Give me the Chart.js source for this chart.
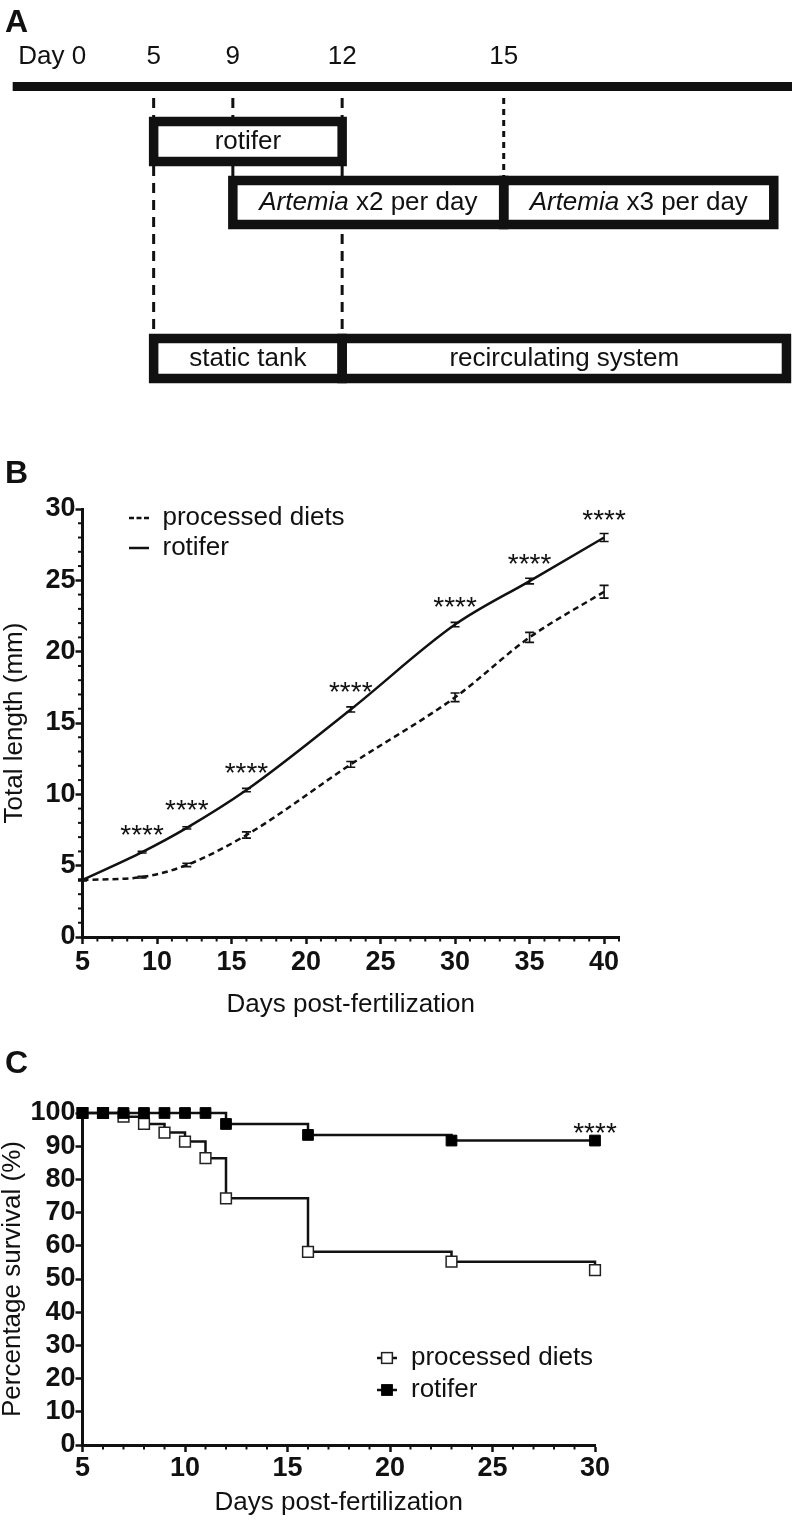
<!DOCTYPE html>
<html>
<head>
<meta charset="utf-8">
<script src="https://cdn.jsdelivr.net/npm/chart.js@4.4.1/dist/chart.umd.min.js"></script>
<style>
  html, body { margin: 0; padding: 0; background: #ffffff; }
  body { width: 792px; height: 1520px; position: relative; overflow: hidden; }
  .panel { position: absolute; left: 0; width: 792px; }
  canvas { display: block; }
</style>
</head>
<body>
<div class="panel" style="top:0px;height:400px"><canvas id="chartA" width="792" height="400"></canvas></div>
<div class="panel" style="top:440px;height:590px"><canvas id="chartB" width="792" height="590"></canvas></div>
<div class="panel" style="top:1030px;height:490px"><canvas id="chartC" width="792" height="490"></canvas></div>
<script>
// ================= DATA =================
// Panel A : rearing schedule (days post-fertilization)
const timelineDays   = [0, 5, 9, 12, 15];
const timelineLabels = ['Day 0', '5', '9', '12', '15'];
const feedingPhases = [
  { from: 5,  to: 12,    row: 1, italic: '',        text: 'rotifer' },
  { from: 9,  to: 15,    row: 2, italic: 'Artemia', text: ' x2 per day' },
  { from: 15, to: 'end', row: 2, italic: 'Artemia', text: ' x3 per day' }
];
const housingPhases = [
  { from: 5,  to: 12,    row: 3, italic: '', text: 'static tank' },
  { from: 12, to: 'end', row: 3, italic: '', text: 'recirculating system' }
];
const guideLines = [ { day: 5, toRow: 3 }, { day: 9, toRow: 2 }, { day: 12, toRow: 3 }, { day: 15, toRow: 2 } ];

// Panel B : total length (mm)
const growthDays      = [5, 9, 12, 16, 23, 30, 35, 40];
const rotiferLength   = [4.0, 5.95, 7.65, 10.3, 15.95, 21.9, 24.95, 28.0];
const rotiferSEM      = [0.05, 0.06, 0.08, 0.12, 0.18, 0.15, 0.2, 0.28];
const processedLength = [4.0, 4.2, 5.05, 7.15, 12.1, 16.8, 21.0, 24.2];
const processedSEM    = [0.05, 0.06, 0.12, 0.22, 0.2, 0.3, 0.35, 0.45];
const growthStars     = ['', '****', '****', '****', '****', '****', '****', '****'];
const growthXTicks    = [5, 10, 15, 20, 25, 30, 35, 40];
const growthYTicks    = [0, 5, 10, 15, 20, 25, 30];

// Panel C : Kaplan-Meier survival (%)
const survivalDays      = [5, 6, 7, 8, 9, 10, 11, 12, 16, 23, 30];
const rotiferSurvival   = [100, 100, 100, 100, 100, 100, 100, 96.7, 93.4, 91.7, 91.7];
const processedSurvival = [100, 100, 98.9, 96.7, 94.1, 91.4, 86.4, 74.3, 58.2, 55.2, 52.7];
const survivalStars     = ['', '', '', '', '', '', '', '', '', '', '****'];
const survivalXTicks    = [5, 10, 15, 20, 25, 30];
const survivalYTicks    = [0, 10, 20, 30, 40, 50, 60, 70, 80, 90, 100];

// ================= STYLE / LAYOUT =================
const FONT = '"Liberation Sans", Arial, Helvetica, sans-serif';
const INK = '#111111';
Chart.defaults.font.family = FONT;
Chart.defaults.color = INK;

function fontAvailable(name) {
  const c = document.createElement('canvas').getContext('2d');
  c.font = '40px monospace';
  const w0 = c.measureText('0123456789abcxyz').width;
  c.font = '40px "' + name + '", monospace';
  const w1 = c.measureText('0123456789abcxyz').width;
  return Math.abs(w0 - w1) > 0.5;
}
const HAS_NARROW = fontAvailable('Liberation Sans Narrow');
const TICK_FONT = HAS_NARROW
  ? { family: '"Liberation Sans Narrow", ' + FONT, size: 29, weight: 'bold' }
  : { family: FONT, size: 27, weight: 'bold' };

// schematic (not-to-scale) placement for panel A, in axis units (x: 0-100, y: 0-40)
const schematic = {
  dayPos: { 0: 6.6, 5: 19.4, 9: 29.4, 12: 43.2, 15: 63.6 },
  endPos: { 2: 97.7, 3: 99.3 },
  timelineFrom: 1.6, timelineTo: 100, timelineY: 8.65, timelineHalf: 0.45,
  labelY: 5.7, guideStart: 9.8,
  rows: { 1: { c: 14.15, h: 2.0 }, 2: { c: 20.25, h: 2.2 }, 3: { c: 35.85, h: 2.0 } }
};

// ================= PLUGINS =================
const panelLetter = {
  id: 'panelLetter',
  afterDraw(chart, args, o) {
    const ctx = chart.ctx;
    ctx.save();
    ctx.fillStyle = INK;
    ctx.font = 'bold 32px ' + FONT;
    ctx.textBaseline = 'alphabetic';
    ctx.textAlign = 'left';
    ctx.fillText(o.text, o.x, o.y);
    ctx.restore();
  }
};

function drawRichText(ctx, italic, text, cx, cy, size) {
  ctx.font = 'italic ' + size + 'px ' + FONT;
  const w1 = italic ? ctx.measureText(italic).width : 0;
  ctx.font = size + 'px ' + FONT;
  const w2 = ctx.measureText(text).width;
  let x = cx - (w1 + w2) / 2;
  ctx.textAlign = 'left';
  ctx.textBaseline = 'middle';
  if (italic) {
    ctx.font = 'italic ' + size + 'px ' + FONT;
    ctx.fillText(italic, x, cy);
    x += w1;
  }
  ctx.font = size + 'px ' + FONT;
  ctx.fillText(text, x, cy);
}

const scheduleDiagram = {
  id: 'scheduleDiagram',
  afterDraw(chart) {
    const ctx = chart.ctx, xs = chart.scales.x, ys = chart.scales.y;
    const X = (d, row) => xs.getPixelForValue(d === 'end' ? schematic.endPos[row] : schematic.dayPos[d]);
    const Y = v => ys.getPixelForValue(v);
    ctx.save();
    ctx.fillStyle = INK;
    ctx.strokeStyle = INK;
    // milestone labels
    ctx.font = '26px ' + FONT;
    ctx.textAlign = 'center';
    ctx.textBaseline = 'middle';
    timelineDays.forEach((d, i) => ctx.fillText(timelineLabels[i], X(d), Y(schematic.labelY)));
    // timeline bar
    const t0 = xs.getPixelForValue(schematic.timelineFrom), t1 = xs.getPixelForValue(schematic.timelineTo);
    ctx.fillRect(t0, Y(schematic.timelineY - schematic.timelineHalf), t1 - t0,
                 Y(schematic.timelineY + schematic.timelineHalf) - Y(schematic.timelineY - schematic.timelineHalf));
    // dashed guide lines
    ctx.lineWidth = 3;
    guideLines.forEach(g => {
      const r = schematic.rows[g.toRow];
      ctx.setLineDash(g.day === 15 ? [6, 5] : [10, 7]);
      ctx.beginPath();
      ctx.moveTo(X(g.day), Y(schematic.guideStart));
      ctx.lineTo(X(g.day), Y(r.c - r.h));
      ctx.stroke();
    });
    ctx.setLineDash([]);
    // phase boxes
    const drawPhase = p => {
      const r = schematic.rows[p.row];
      const x0 = X(p.from, p.row), x1 = X(p.to, p.row);
      const y0 = Y(r.c - r.h), y1 = Y(r.c + r.h);
      ctx.fillStyle = '#ffffff';
      ctx.fillRect(x0, y0, x1 - x0, y1 - y0);
    };
    const strokePhase = p => {
      const r = schematic.rows[p.row];
      const x0 = X(p.from, p.row), x1 = X(p.to, p.row);
      const y0 = Y(r.c - r.h), y1 = Y(r.c + r.h);
      ctx.lineWidth = 9.5;
      ctx.strokeStyle = INK;
      ctx.strokeRect(x0, y0, x1 - x0, y1 - y0);
      ctx.fillStyle = INK;
      drawRichText(ctx, p.italic, p.text, (x0 + x1) / 2, Y(r.c), 26);
    };
    const all = feedingPhases.concat(housingPhases);
    all.forEach(drawPhase);
    all.forEach(strokePhase);
    ctx.restore();
  }
};

// minor tick marks
const minorTicks = {
  id: 'minorTicks',
  afterDraw(chart, args, o) {
    const ctx = chart.ctx;
    ctx.save();
    ctx.strokeStyle = INK;
    ctx.lineWidth = 2;
    (o.axes || []).forEach(a => {
      const s = chart.scales[a.id];
      for (let v = s.min; v <= s.max + 1e-9; v += a.step) {
        const q = v / a.major;
        if (Math.abs(q - Math.round(q)) < 1e-9) continue;
        const p = s.getPixelForValue(v);
        ctx.beginPath();
        if (s.isHorizontal()) { ctx.moveTo(p, s.top); ctx.lineTo(p, s.top + a.len); }
        else { ctx.moveTo(s.right, p); ctx.lineTo(s.right - a.len, p); }
        ctx.stroke();
      }
    });
    ctx.restore();
  }
};

// error bars (SEM) and significance stars
const errorBarsAndStars = {
  id: 'errorBarsAndStars',
  afterDatasetsDraw(chart, args, o) {
    const ctx = chart.ctx, xs = chart.scales.x, ys = chart.scales.y;
    ctx.save();
    ctx.strokeStyle = INK;
    ctx.fillStyle = INK;
    ctx.lineWidth = 1.6;
    chart.data.datasets.forEach(ds => {
      ds.data.forEach((pt, i) => {
        const x = xs.getPixelForValue(pt.x);
        if (ds.sem && ds.sem[i]) {
          const ya = ys.getPixelForValue(pt.y - ds.sem[i]);
          const yb = ys.getPixelForValue(pt.y + ds.sem[i]);
          ctx.beginPath();
          ctx.moveTo(x, ya); ctx.lineTo(x, yb);
          ctx.moveTo(x - 4.5, ya); ctx.lineTo(x + 4.5, ya);
          ctx.moveTo(x - 4.5, yb); ctx.lineTo(x + 4.5, yb);
          ctx.stroke();
        }
        if (ds.stars && ds.stars[i]) {
          ctx.font = '28px ' + FONT;
          ctx.textAlign = 'center';
          ctx.textBaseline = 'alphabetic';
          ctx.fillText(ds.stars[i], x, ys.getPixelForValue(pt.y) + o.starShift);
        }
      });
    });
    ctx.restore();
  }
};

// custom legends
const customLegend = {
  id: 'customLegend',
  afterDraw(chart, args, o) {
    const ctx = chart.ctx, ca = chart.chartArea;
    ctx.save();
    o.items.forEach(it => {
      const ds = chart.data.datasets[it.dataset];
      const y = (o.fromBottom ? ca.bottom : ca.top) + it.dy;
      const x0 = ca.left + o.sampleFrom, x1 = ca.left + o.sampleTo;
      ctx.strokeStyle = INK;
      ctx.lineWidth = 2.5;
      ctx.setLineDash(it.dash || []);
      ctx.beginPath(); ctx.moveTo(x0, y); ctx.lineTo(x1, y); ctx.stroke();
      ctx.setLineDash([]);
      if (o.marker) {
        const s = ds.pointRadius * Math.SQRT1_2;
        const cx = (x0 + x1) / 2;
        ctx.fillStyle = ds.pointBackgroundColor;
        ctx.fillRect(cx - s, y - s, 2 * s, 2 * s);
        ctx.lineWidth = ds.pointBorderWidth;
        ctx.strokeStyle = ds.pointBorderColor;
        ctx.strokeRect(cx - s, y - s, 2 * s, 2 * s);
      }
      ctx.fillStyle = INK;
      ctx.font = '26px ' + FONT;
      ctx.textAlign = 'left';
      ctx.textBaseline = 'middle';
      ctx.fillText(ds.label, ca.left + o.textAt, y);
    });
    ctx.restore();
  }
};

const baseOpts = {
  responsive: false,
  animation: false,
  devicePixelRatio: 1,
  events: []
};

function axisCommon(ticksArr, titleText, titleFont, titlePad, fitFn) {
  return {
    type: 'linear',
    afterBuildTicks: s => { s.ticks = ticksArr.map(v => ({ value: v })); },
    ticks: { color: INK, font: TICK_FONT, padding: 0, maxRotation: 0, autoSkip: false },
    grid: { drawOnChartArea: false, drawTicks: true, tickLength: 7, tickWidth: 2.5, tickColor: INK },
    border: { display: true, color: INK, width: 3 },
    title: { display: true, text: titleText, color: INK, font: titleFont, padding: titlePad },
    afterFit: fitFn
  };
}

// ================= PANEL A =================
new Chart(document.getElementById('chartA'), {
  type: 'scatter',
  data: { datasets: [] },
  options: Object.assign({}, baseOpts, {
    layout: { padding: 0 },
    plugins: { legend: { display: false }, tooltip: { enabled: false },
               panelLetter: { text: 'A', x: 5, y: 32 } },
    scales: {
      x: { type: 'linear', min: 0, max: 100, display: false },
      y: { type: 'linear', min: 0, max: 40, reverse: true, display: false }
    }
  }),
  plugins: [scheduleDiagram, panelLetter]
});

// ================= PANEL B =================
const xB = axisCommon(growthXTicks, 'Days post-fertilization', { size: 26, family: FONT, lineHeight: 1.2 },
                      { top: 0, bottom: 9.4 }, s => { s.height = 93; });
xB.min = 5; xB.max = 41; xB.ticks.padding = 2;
const yB = axisCommon(growthYTicks, 'Total length (mm)', { size: 26, family: FONT, lineHeight: 1.0 },
                      { top: 2, bottom: 0 }, s => { s.width = 82.5; });
yB.min = 0; yB.max = 30;

new Chart(document.getElementById('chartB'), {
  type: 'line',
  data: {
    datasets: [
      {
        label: 'rotifer',
        data: growthDays.map((d, i) => ({ x: d, y: rotiferLength[i] })),
        sem: rotiferSEM, stars: growthStars,
        borderColor: INK, borderWidth: 2.5, pointRadius: 0, fill: false,
        cubicInterpolationMode: 'monotone', clip: false
      },
      {
        label: 'processed diets',
        data: growthDays.map((d, i) => ({ x: d, y: processedLength[i] })),
        sem: processedSEM,
        borderColor: INK, borderWidth: 2.5, borderDash: [6, 4], pointRadius: 0, fill: false,
        cubicInterpolationMode: 'monotone', clip: false
      }
    ]
  },
  options: Object.assign({}, baseOpts, {
    layout: { padding: { top: 69, right: 173, left: 0, bottom: 0 } },
    plugins: {
      legend: { display: false }, tooltip: { enabled: false },
      panelLetter: { text: 'B', x: 5, y: 43 },
      minorTicks: { axes: [ { id: 'x', step: 1, major: 5, len: 4.5 }, { id: 'y', step: 1, major: 5, len: 4.5 } ] },
      errorBarsAndStars: { starShift: -8.5 },
      customLegend: {
        fromBottom: false, sampleFrom: 46.5, sampleTo: 66.5, textAt: 80, marker: false,
        items: [ { dataset: 1, dy: 9, dash: [5, 2.5] }, { dataset: 0, dy: 39 } ]
      }
    },
    scales: { x: xB, y: yB }
  }),
  plugins: [errorBarsAndStars, minorTicks, customLegend, panelLetter]
});

// ================= PANEL C =================
const xC = axisCommon(survivalXTicks, 'Days post-fertilization', { size: 26, family: FONT, lineHeight: 1.2 },
                      { top: 0, bottom: 1.4 }, s => { s.height = 75; });
xC.min = 5; xC.max = 30;
const yC = axisCommon(survivalYTicks, 'Percentage survival (%)', { size: 26, family: FONT, lineHeight: 1.0 },
                      { top: 0, bottom: 0 }, s => { s.width = 82.5; });
yC.min = 0; yC.max = 100;

new Chart(document.getElementById('chartC'), {
  type: 'line',
  data: {
    datasets: [
      {
        label: 'rotifer',
        data: survivalDays.map((d, i) => ({ x: d, y: rotiferSurvival[i] })),
        stars: survivalStars,
        stepped: 'before', borderColor: INK, borderWidth: 2.5, fill: false,
        pointStyle: 'rect', pointRadius: 7.6, pointBackgroundColor: '#000000',
        pointBorderColor: '#000000', pointBorderWidth: 1, clip: false
      },
      {
        label: 'processed diets',
        data: survivalDays.map((d, i) => ({ x: d, y: processedSurvival[i] })),
        stepped: 'before', borderColor: INK, borderWidth: 2.5, fill: false,
        pointStyle: 'rect', pointRadius: 7.6, pointBackgroundColor: '#ffffff',
        pointBorderColor: '#222222', pointBorderWidth: 1.5, clip: false
      }
    ]
  },
  options: Object.assign({}, baseOpts, {
    layout: { padding: { top: 83, right: 197, left: 0, bottom: 0 } },
    plugins: {
      legend: { display: false }, tooltip: { enabled: false },
      panelLetter: { text: 'C', x: 5, y: 43 },
      minorTicks: { axes: [ { id: 'x', step: 1, major: 5, len: 4.5 } ] },
      errorBarsAndStars: { starShift: 1.5 },
      customLegend: {
        fromBottom: true, sampleFrom: 294.5, sampleTo: 314.5, textAt: 328.5, marker: true,
        items: [ { dataset: 1, dy: -87 }, { dataset: 0, dy: -55 } ]
      }
    },
    scales: { x: xC, y: yC }
  }),
  plugins: [errorBarsAndStars, minorTicks, customLegend, panelLetter]
});
</script>
</body>
</html>
